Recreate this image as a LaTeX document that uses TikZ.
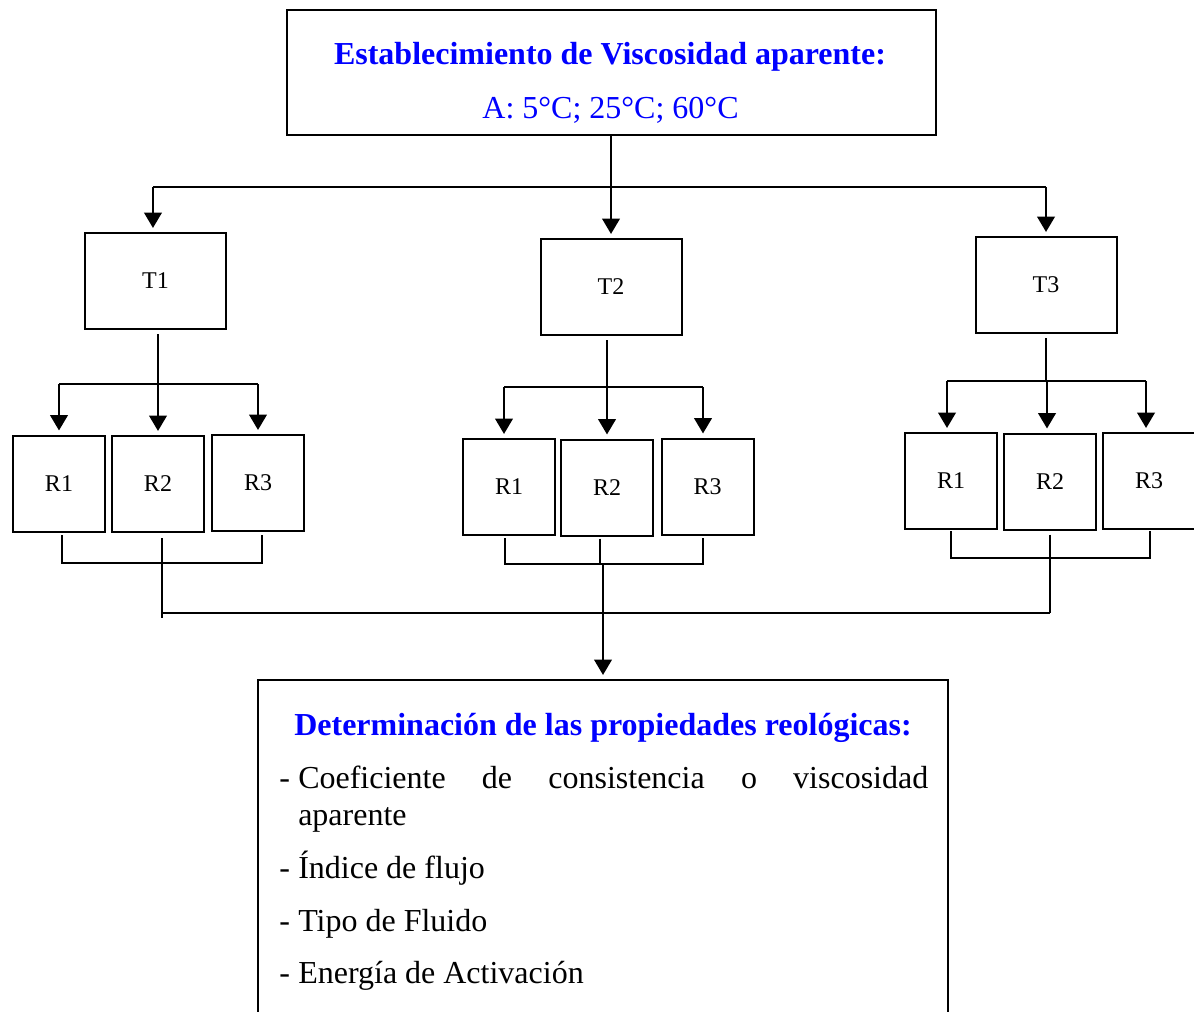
\documentclass[tikz,border=0pt]{standalone}
\usepackage{fontspec}
\setmainfont{Liberation Serif}
\usetikzlibrary{arrows.meta,calc}
\definecolor{tblue}{RGB}{0,0,255}
\newcommand\myBigFont{\fontsize{24}{28}\selectfont}
\newcommand\myLabelFont{\fontsize{18}{21}\selectfont}
\begin{document}
\begin{tikzpicture}[x=0.75pt,y=-0.75pt,
  ln/.style={line width=1.5pt},
  arr/.style={line width=2pt,-{Triangle[width=13pt,length=11.5pt]}},
  bx/.style={draw,line width=1.5pt,inner sep=0pt},
  tbox/.style={bx,minimum width=105.75pt,minimum height=72pt,font=\myLabelFont},
  rbox/.style={bx,minimum width=69pt,minimum height=72pt,font=\myLabelFont},
  txt/.style={inner sep=0pt,anchor=base,font=\myBigFont},
  ttl/.style={txt,font=\myBigFont\bfseries,text=tblue},
  item/.style={inner sep=0pt,anchor=base west,font=\myBigFont}]
\clip (0,0) rectangle (1194,1012);
\fill[white] (0,0) rectangle (1194,1012);

% top box
\node[bx,minimum width=486.75pt,minimum height=93.75pt] (top) at (611,72.5) {};
\node[ttl] (toptitle) at (610,65) {Establecimiento de Viscosidad aparente:};
\node[txt,text=tblue] (toptemp) at (610.5,119) {A: 5°C; 25°C; 60°C};

% T boxes
\node[tbox] (T1) at (155.5,281) {T1};
\node[tbox] (T2) at (611,287) {T2};
\node[tbox] (T3) at (1046,285) {T3};

% R boxes
\node[rbox] (R11) at (59,483.5) {R1};
\node[rbox] (R12) at (158,484) {R2};
\node[rbox] (R13) at (258,483) {R3};
\node[rbox] (R21) at (509,487) {R1};
\node[rbox] (R22) at (607,487.5) {R2};
\node[rbox] (R23) at (707.5,486.5) {R3};
\node[rbox] (R31) at (951,481) {R1};
\node[rbox] (R32) at (1050,481.5) {R2};
\node[rbox] (R33) at (1149,481) {R3};

% bottom box
\node[bx,minimum width=517.5pt,minimum height=262.5pt] (bottom) at (603,855) {};
\node[ttl] (btitle) at (603,735) {Determinación de las propiedades reológicas:};
\node[item] (d1) at (279,788) {-};
\node[item] (i1) at (298,788) {\makebox[472.5pt][s]{Coeficiente de consistencia o viscosidad}};
\node[item] (i1b) at (298,825) {aparente};
\node[item] (d2) at (279,878) {-};
\node[item] (i2) at (298,878) {Índice de flujo};
\node[item] (d3) at (279,931) {-};
\node[item] (i3) at (298,931) {Tipo de Fluido};
\node[item] (d4) at (279,983) {-};
\node[item] (i4) at (298,983) {Energía de Activación};

% level coordinates
\coordinate (y187) at (0,187);
\coordinate (y384) at (0,384);
\coordinate (y387) at (0,387);
\coordinate (y381) at (0,381);
\coordinate (y563) at (0,563);
\coordinate (y564) at (0,564);
\coordinate (y558) at (0,558);
\coordinate (y613) at (0,613);
\coordinate (y618) at (0,618);

% top distribution
\draw[ln] (top.south) -- (top.south |- y187);
\draw[ln] ([xshift=-1.9pt]T1.north |- y187) -- (T3.north |- y187);
\draw[arr] ([xshift=-1.9pt]T1.north |- y187) -- ([xshift=-1.9pt,yshift=3pt]T1.north);
\draw[arr] (T2.north |- y187) -- ([yshift=3pt]T2.north);
\draw[arr] (T3.north |- y187) -- ([yshift=3pt]T3.north);

% group 1
\draw[ln] ([yshift=-3pt]R12.north |- T1.south) -- (R12.north |- y384);
\draw[ln] (R11.north |- y384) -- (R13.north |- y384);
\foreach \r in {R11,R12,R13}
  \draw[arr] (\r.north |- y384) -- ([yshift=3pt]\r.north);
\draw[ln] ([xshift=2.25pt,yshift=-2pt]R11.south) -- ([xshift=2.25pt]R11.south |- y563)
  -- ([xshift=3pt]R13.south |- y563) -- ([xshift=3pt,yshift=-2pt]R13.south);
\draw[ln] ([xshift=3pt,yshift=-4pt]R12.south) -- ([xshift=3pt]R12.south |- y618);

% group 2
\draw[ln] ([yshift=-3pt]R22.north |- T2.south) -- (R22.north |- y387);
\draw[ln] ([xshift=-3.75pt]R21.north |- y387) -- ([xshift=-3.375pt]R23.north |- y387);
\draw[arr] ([xshift=-3.75pt]R21.north |- y387) -- ([xshift=-3.75pt,yshift=3pt]R21.north);
\draw[arr] (R22.north |- y387) -- ([yshift=3pt]R22.north);
\draw[arr] ([xshift=-3.375pt]R23.north |- y387) -- ([xshift=-3.375pt,yshift=3pt]R23.north);
\draw[ln] ([xshift=-3pt,yshift=-1.5pt]R21.south) -- ([xshift=-3pt]R21.south |- y564)
  -- ([xshift=-3.375pt]R23.south |- y564) -- ([xshift=-3.375pt,yshift=-1.5pt]R23.south);
\draw[ln] ([xshift=-5.25pt,yshift=-1.5pt]R22.south) -- ([xshift=-5.25pt]R22.south |- y564);

% group 3
\draw[ln] ([yshift=-3pt]T3.south) -- (T3.south |- y381);
\draw[ln] ([xshift=-3pt]R31.north |- y381) -- ([xshift=-2.25pt]R33.north |- y381);
\draw[arr] ([xshift=-3pt]R31.north |- y381) -- ([xshift=-3pt,yshift=3pt]R31.north);
\draw[arr] ([xshift=-2.25pt]R32.north |- y381) -- ([xshift=-2.25pt,yshift=3pt]R32.north);
\draw[arr] ([xshift=-2.25pt]R33.north |- y381) -- ([xshift=-2.25pt,yshift=3pt]R33.north);
\draw[ln] ([yshift=-1pt]R31.south) -- (R31.south |- y558)
  -- ([xshift=0.75pt]R33.south |- y558) -- ([xshift=0.75pt,yshift=-1pt]R33.south);
\draw[ln] ([yshift=-3pt]R32.south) -- (R32.south |- y613);

% collection
\draw[ln] ([xshift=3pt]R12.south |- y613) -- (R32.south |- y613);
\draw[arr] (bottom.north |- y564) -- ([yshift=3pt]bottom.north);
\end{tikzpicture}
\end{document}
